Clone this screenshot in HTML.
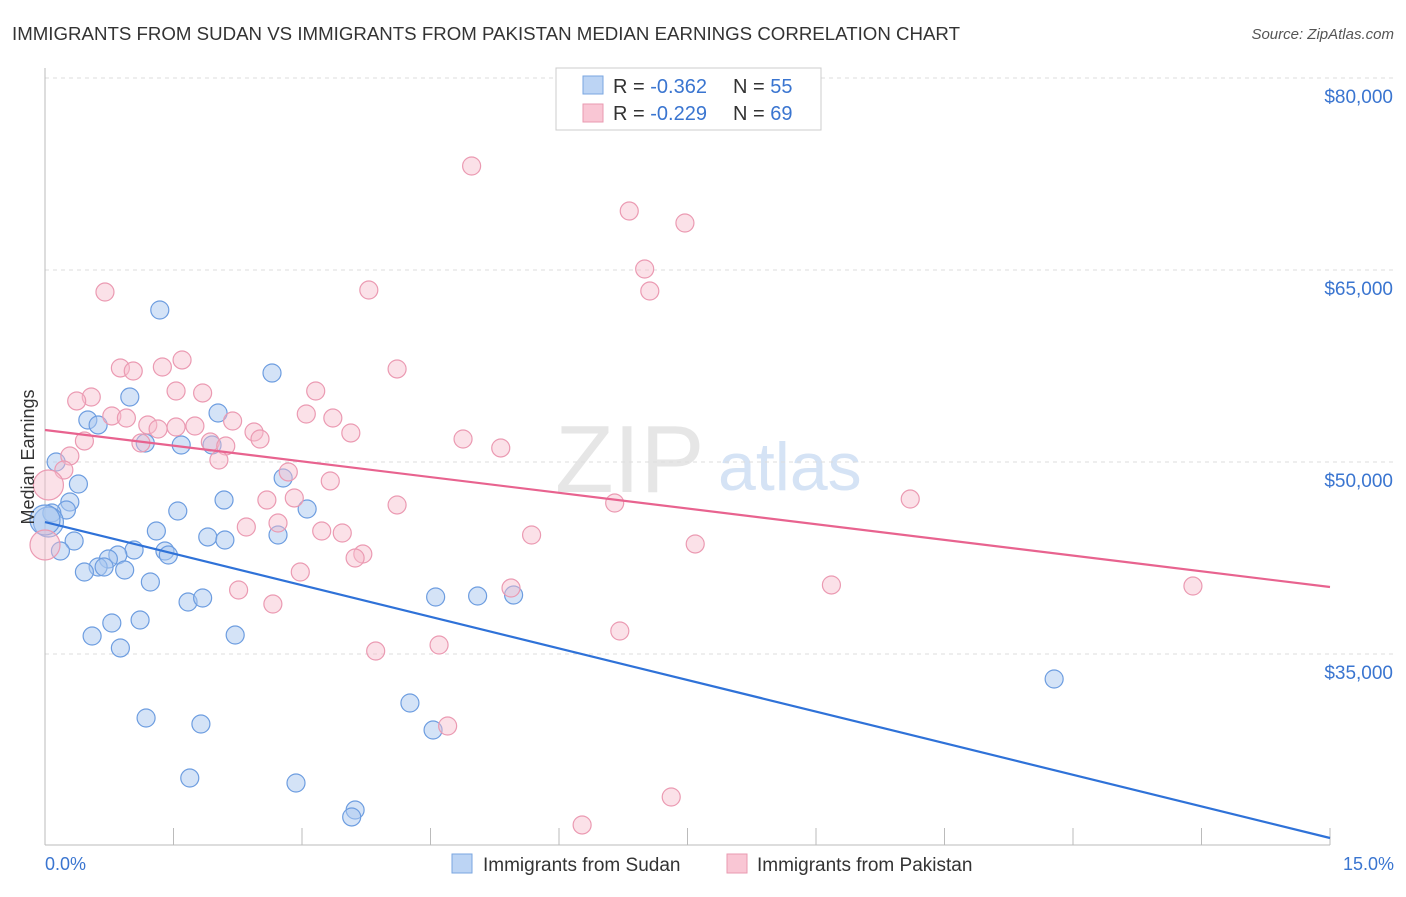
<!DOCTYPE html>
<html><head><meta charset="utf-8"><style>
body{margin:0;background:#fff;font-family:"Liberation Sans",sans-serif}
svg text{font-family:"Liberation Sans",sans-serif}
</style></head><body>
<svg width="1406" height="892">
<text x="12" y="40" font-size="18" fill="#333" textLength="948" lengthAdjust="spacingAndGlyphs">IMMIGRANTS FROM SUDAN VS IMMIGRANTS FROM PAKISTAN MEDIAN EARNINGS CORRELATION CHART</text>
<text x="1394" y="39" font-size="15" fill="#555" font-style="italic" text-anchor="end">Source: ZipAtlas.com</text>
<text x="555" y="492" font-size="96" fill="#e6e6e6" font-family="Liberation Serif">ZIP</text>
<text x="718" y="490" font-size="68" fill="#d5e3f5">atlas</text>
<g id="grid"></g>
<g id="axes"></g>
<g id="pts"></g>
<g id="lines"></g>
<text transform="translate(34,457) rotate(-90)" font-size="18" fill="#333" text-anchor="middle">Median Earnings</text>
<text x="45" y="870" font-size="18" fill="#3a75d0">0.0%</text>
<text x="1394" y="870" font-size="18" fill="#3a75d0" text-anchor="end">15.0%</text>
<g>
<rect x="556" y="68" width="265" height="62" fill="#fff" stroke="#ccc"/>
<rect x="583" y="76" width="20" height="18" fill="#bcd4f4" stroke="#7aa6e0"/>
<rect x="583" y="104" width="20" height="18" fill="#f9c6d4" stroke="#e99ab0"/>
<text x="613" y="93" font-size="20" fill="#333">R = <tspan fill="#3a75d0">-0.362</tspan><tspan x="733">N = </tspan><tspan fill="#3a75d0">55</tspan></text>
<text x="613" y="120" font-size="20" fill="#333">R = <tspan fill="#3a75d0">-0.229</tspan><tspan x="733">N = </tspan><tspan fill="#3a75d0">69</tspan></text>
</g>
<g>
<rect x="452" y="854" width="20" height="19" fill="#bcd4f4" stroke="#7aa6e0"/>
<text x="483" y="871" font-size="19" fill="#333">Immigrants from Sudan</text>
<rect x="727" y="854" width="20" height="19" fill="#f9c6d4" stroke="#e99ab0"/>
<text x="757" y="871" font-size="19" fill="#333">Immigrants from Pakistan</text>
</g>
</svg>
<script>
const yTicks=[35000,50000,65000,80000];
const yTickLabels=["$35,000","$50,000","$65,000","$80,000"];
const xTicks=[0,1.5,3,4.5,6,7.5,9,10.5,12,13.5,15];
const sudanX=[1.34,2.65,0.99,0.50,0.62,1.17,1.59,2.02,1.95,0.13,0.39,0.29,0.25,0.08,0.04,1.55,3.06,2.78,2.09,1.30,1.90,2.10,2.72,0.34,0.18,1.04,1.40,1.44,0.85,0.74,0.62,0.69,0.93,0.46,1.23,1.67,1.84,4.56,5.05,5.47,1.11,0.78,0.55,2.22,0.88,4.26,4.53,1.18,1.82,11.78,1.69,2.93,3.62,3.58,0.0];
const sudanY=[61875,56953,55078,53281,52891,51484,51328,53828,51328,50000,48281,46875,46250,46016,45312,46172,46328,48750,47031,44609,44141,43906,44297,43828,43047,43125,43047,42734,42734,42422,41797,41797,41562,41406,40625,39062,39375,39453,39531,39609,37656,37422,36406,36484,35469,31172,29062,30000,29531,33047,25312,24922,22812,22266,45469];
const pakX=[4.98,6.82,7.47,7.00,7.06,0.70,3.78,1.60,0.88,1.37,1.03,4.11,3.16,1.53,1.84,0.54,0.37,3.36,3.05,0.78,0.95,2.19,1.75,1.20,1.53,1.32,2.44,3.57,4.88,1.93,2.51,0.46,1.12,2.11,5.32,0.29,2.03,0.22,2.84,3.33,0.04,2.59,2.91,4.11,6.65,10.10,2.72,2.35,5.68,3.23,3.47,7.59,3.71,3.62,2.26,2.98,2.66,5.44,9.18,13.40,4.60,3.86,6.71,4.70,7.31,6.27,0.0];
const pakY=[73125,69609,68672,65078,63359,63281,63437,57969,57344,57422,57109,57266,55547,55547,55391,55078,54766,53437,53750,53594,53437,53203,52812,52891,52734,52578,52344,52266,51797,51562,51797,51641,51484,51250,51094,50469,50156,49375,49219,48516,48203,47031,47188,46641,46797,47109,45234,44922,44297,44609,44453,43594,42812,42500,40000,41406,38906,40156,40391,40312,35703,35234,36797,29375,23828,21641,43516];
const sudanTrend=[45312,20625];
const pakTrend=[52500,40234];
const NS="http://www.w3.org/2000/svg";
const X=v=>45+v/15*1285;
const Y=v=>78+(80000-v)/1000*12.8;
function mk(tag,attrs,parent){const e=document.createElementNS(NS,tag);for(const k in attrs)e.setAttribute(k,attrs[k]);document.getElementById(parent).appendChild(e);return e;}
yTicks.forEach((t,i)=>{
 const g=mk('line',{x1:45,x2:1394,y1:Y(t),y2:Y(t),stroke:'#ddd','stroke-dasharray':'4,4'},'grid');
 
 
 const l=mk('text',{x:1393,y:Y(t)+25,'font-size':19,fill:'#3a75d0','text-anchor':'end'},'grid');
 l.textContent=yTickLabels[i];
 
 
});
const ax=mk('line',{x1:45,x2:1330,y1:845,y2:845,stroke:'#bbb'},'axes');


const ay=mk('line',{x1:45,x2:45,y1:68,y2:845,stroke:'#bbb'},'axes');


xTicks.forEach(t=>{
 const k=mk('line',{x1:X(t),x2:X(t),y1:828,y2:845,stroke:'#bbb'},'axes');
 
 
});
function pts(xs,ys,fill,stroke,name,op){
 xs.forEach((x,i)=>{
  const big=x<0.05;
  const c=mk('circle',{cx:X(x),cy:Y(ys[i]),r:big?15:9,fill:fill,'fill-opacity':op,stroke:stroke,'stroke-width':1.2},'pts');
  
  
 });
}
pts(sudanX,sudanY,'#a9c8f0','#6d9de0','point-sudan',0.5);
pts(pakX,pakY,'#f6bccc','#eb9ab2','point-pakistan',0.45);
const l1=mk('line',{x1:X(0),y1:Y(sudanTrend[0]),x2:X(15),y2:Y(sudanTrend[1]),stroke:'#2f72d8','stroke-width':2.2},'lines');


const l2=mk('line',{x1:X(0),y1:Y(pakTrend[0]),x2:X(15),y2:Y(pakTrend[1]),stroke:'#e8638f','stroke-width':2.2},'lines');


</script>
</body></html>
